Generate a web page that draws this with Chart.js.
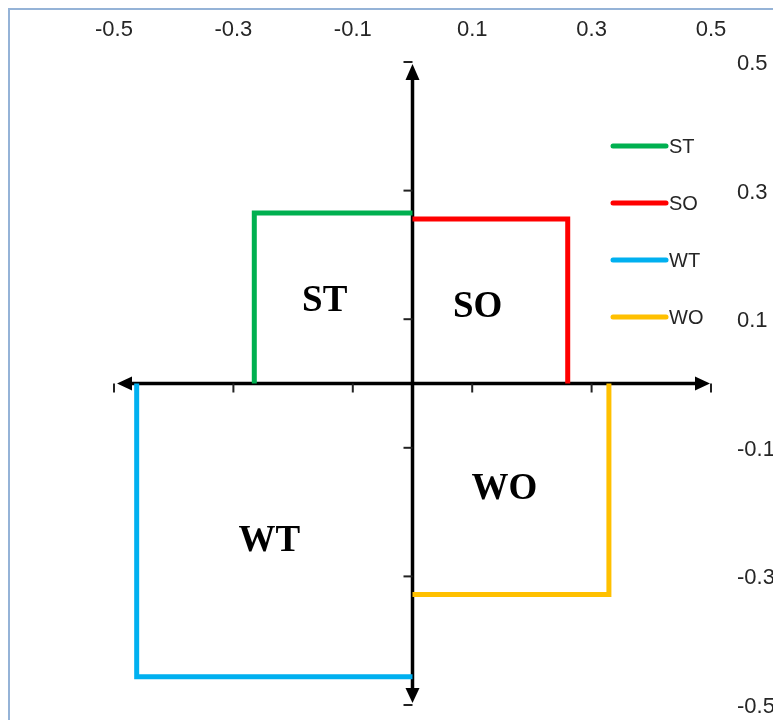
<!DOCTYPE html>
<html><head><meta charset="utf-8">
<script src="https://cdn.jsdelivr.net/npm/chart.js@4.4.1/dist/chart.umd.min.js"></script>
<style>html,body{margin:0;padding:0;background:#fff;overflow:hidden}
#wrap{position:relative;width:773px;height:720px}</style>
</head><body><div id="wrap"><canvas id="c"></canvas></div>
<script>
const seriesNames = ['ST', 'SO', 'WT', 'WO'];
const seriesColors = ['#00b050', '#ff0000', '#00b0f0', '#ffc000'];
const stX = [-0.265, -0.265, 0];
const stY = [0, 0.265, 0.265];
const soX = [0, 0.26, 0.26];
const soY = [0.256, 0.256, 0];
const wtX = [-0.462, -0.462, 0];
const wtY = [0, -0.456, -0.456];
const woX = [0.329, 0.329, 0];
const woY = [0, -0.328, -0.328];
const xTicks = [-0.5, -0.3, -0.1, 0.1, 0.3, 0.5];
const yTicks = [0.5, 0.3, 0.1, -0.1, -0.3, -0.5];
const quadrantLabels = ['ST', 'SO', 'WT', 'WO'];
const quadrantLabelX = [-0.147, 0.109, -0.240, 0.154];
const quadrantLabelY = [0.128, 0.119, -0.245, -0.164];

const seriesX = [stX, soX, wtX, woX];
const seriesY = [stY, soY, wtY, woY];

const datasets = seriesNames.map((name, i) => ({
  label: name,
  data: seriesX[i].map((xv, j) => ({x: xv, y: seriesY[i][j]})),
  showLine: true,
  borderColor: seriesColors[i],
  backgroundColor: seriesColors[i],
  borderWidth: 5,
  pointRadius: 0,
  fill: false,
  tension: 0,
  borderJoinStyle: 'miter',
  borderCapStyle: 'butt'
}));

const framePlugin = {
  id: 'frame',
  beforeDraw(chart) {
    const ctx = chart.ctx;
    ctx.save();
    ctx.fillStyle = '#ffffff';
    ctx.fillRect(0, 0, chart.width, chart.height);
    ctx.strokeStyle = '#95b3d7';
    ctx.lineWidth = 2;
    ctx.strokeRect(9, 9, chart.width + 20, chart.height + 20);
    ctx.restore();
  }
};

const axesPlugin = {
  id: 'centerAxes',
  beforeDatasetsDraw(chart) {
    const {ctx, scales: {x, y}} = chart;
    const x0 = x.getPixelForValue(0), y0 = y.getPixelForValue(0);
    const xl = x.getPixelForValue(xTicks[0]), xr = x.getPixelForValue(xTicks[xTicks.length - 1]);
    const yt = y.getPixelForValue(yTicks[0]), yb = y.getPixelForValue(yTicks[yTicks.length - 1]);
    ctx.save();
    ctx.strokeStyle = '#000';
    ctx.fillStyle = '#000';
    ctx.lineWidth = 3.5;
    ctx.beginPath(); ctx.moveTo(xl + 8, y0); ctx.lineTo(xr - 8, y0); ctx.stroke();
    ctx.beginPath(); ctx.moveTo(x0, yt + 8); ctx.lineTo(x0, yb - 8); ctx.stroke();
    const tri = (pts) => { ctx.beginPath(); ctx.moveTo(pts[0], pts[1]); ctx.lineTo(pts[2], pts[3]); ctx.lineTo(pts[4], pts[5]); ctx.closePath(); ctx.fill(); };
    tri([xl + 3, y0, xl + 18, y0 - 7, xl + 18, y0 + 7]);
    tri([xr - 1, y0, xr - 16, y0 - 7, xr - 16, y0 + 7]);
    tri([x0, yt + 2, x0 - 7, yt + 18, x0 + 7, yt + 18]);
    tri([x0, yb - 2, x0 - 7, yb - 17, x0 + 7, yb - 17]);
    ctx.lineWidth = 2;
    ctx.strokeStyle = '#222';
    xTicks.forEach(v => {
      const px = x.getPixelForValue(v);
      ctx.beginPath(); ctx.moveTo(px, y0); ctx.lineTo(px, y0 + 9); ctx.stroke();
    });
    yTicks.forEach(v => {
      const py = y.getPixelForValue(v);
      ctx.beginPath(); ctx.moveTo(x0 - 9, py); ctx.lineTo(x0, py); ctx.stroke();
    });
    ctx.restore();
  }
};

const labelsPlugin = {
  id: 'labelsAndLegend',
  afterDatasetsDraw(chart) {
    const {ctx, scales: {x, y}} = chart;
    ctx.save();
    ctx.fillStyle = '#000';
    ctx.font = 'bold 37px "Liberation Serif", "Times New Roman", serif';
    ctx.textAlign = 'center';
    ctx.textBaseline = 'middle';
    quadrantLabels.forEach((t, i) => {
      ctx.fillText(t, x.getPixelForValue(quadrantLabelX[i]), y.getPixelForValue(quadrantLabelY[i]));
    });
    // legend
    const lx = 611, lw = 57, ly0 = 146, step = 57;
    ctx.font = '20px "Liberation Sans", Arial, sans-serif';
    ctx.textAlign = 'left';
    ctx.textBaseline = 'middle';
    seriesNames.forEach((name, i) => {
      const ly = ly0 + i * step;
      ctx.strokeStyle = seriesColors[i];
      ctx.lineWidth = 5;
      ctx.lineCap = 'round';
      ctx.beginPath(); ctx.moveTo(lx + 2, ly); ctx.lineTo(lx + lw - 2, ly); ctx.stroke();
      ctx.fillStyle = '#262626';
      ctx.fillText(name, lx + lw + 1, ly + 1);
    });
    ctx.restore();
  }
};

new Chart(document.getElementById('c'), {
  type: 'scatter',
  data: {datasets},
  plugins: [framePlugin, axesPlugin, labelsPlugin],
  options: {
    responsive: true,
    maintainAspectRatio: false,
    animation: false,
    layout: {padding: {left: 114, right: 0, top: 0, bottom: 15}},
    plugins: {legend: {display: false}, tooltip: {enabled: false}},
    scales: {
      x: {
        type: 'linear', position: 'top', min: -0.5, max: 0.5,
        grid: {display: false, drawTicks: false},
        border: {display: false},
        afterBuildTicks: (s) => { s.ticks = xTicks.map(v => ({value: v})); },
        afterFit: (s) => { s.height = 62; s.paddingLeft = 0; s.paddingRight = 0; },
        ticks: {
          padding: 19, autoSkip: false, maxRotation: 0, color: '#262626',
          font: {family: '"Liberation Sans", Arial, sans-serif', size: 22},
          callback: (v) => Number(v).toFixed(1)
        }
      },
      y: {
        type: 'linear', position: 'right', min: -0.5, max: 0.5,
        grid: {display: false, drawTicks: false},
        border: {display: false},
        afterBuildTicks: (s) => { s.ticks = yTicks.map(v => ({value: v})); },
        afterFit: (s) => { s.width = 62; s.paddingTop = 0; s.paddingBottom = 0; },
        ticks: {
          padding: 26, labelOffset: 2, autoSkip: false, color: '#262626',
          font: {family: '"Liberation Sans", Arial, sans-serif', size: 22},
          callback: (v) => Number(v).toFixed(1)
        }
      }
    }
  }
});
</script></body></html>
